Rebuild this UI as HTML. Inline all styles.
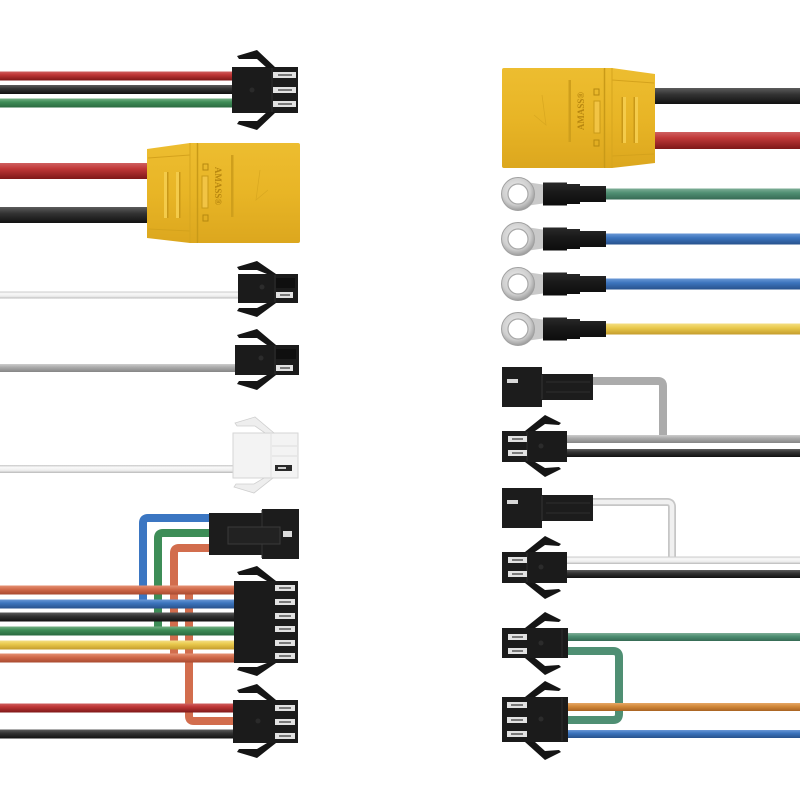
<!DOCTYPE html>
<html><head><meta charset="utf-8">
<style>html,body{margin:0;padding:0;background:#fff}svg{display:block}</style>
</head>
<body>
<svg width="800" height="800" viewBox="0 0 800 800" xmlns="http://www.w3.org/2000/svg">
<defs>
  <linearGradient id="gR" x1="0" y1="0" x2="0" y2="1"><stop offset="0" stop-color="#cf6060"/><stop offset="0.35" stop-color="#c03838"/><stop offset="1" stop-color="#7e1818"/></linearGradient>
  <linearGradient id="gK" x1="0" y1="0" x2="0" y2="1"><stop offset="0" stop-color="#5c5c5c"/><stop offset="0.4" stop-color="#333"/><stop offset="1" stop-color="#111"/></linearGradient>
  <linearGradient id="gG" x1="0" y1="0" x2="0" y2="1"><stop offset="0" stop-color="#74b084"/><stop offset="0.4" stop-color="#3e8c57"/><stop offset="1" stop-color="#2a6a40"/></linearGradient>
  <linearGradient id="gW" x1="0" y1="0" x2="0" y2="1"><stop offset="0" stop-color="#c8c8c8"/><stop offset="0.3" stop-color="#fafafa"/><stop offset="0.7" stop-color="#ececec"/><stop offset="1" stop-color="#b8b8b8"/></linearGradient>
  <linearGradient id="gGr" x1="0" y1="0" x2="0" y2="1"><stop offset="0" stop-color="#cdcdcd"/><stop offset="0.4" stop-color="#ababab"/><stop offset="1" stop-color="#858585"/></linearGradient>
  <linearGradient id="gB" x1="0" y1="0" x2="0" y2="1"><stop offset="0" stop-color="#6a98d6"/><stop offset="0.4" stop-color="#3c74bd"/><stop offset="1" stop-color="#28528c"/></linearGradient>
  <linearGradient id="gYe" x1="0" y1="0" x2="0" y2="1"><stop offset="0" stop-color="#f4df84"/><stop offset="0.4" stop-color="#e9c94c"/><stop offset="1" stop-color="#c49c2c"/></linearGradient>
  <linearGradient id="gO" x1="0" y1="0" x2="0" y2="1"><stop offset="0" stop-color="#e59274"/><stop offset="0.4" stop-color="#d26b4b"/><stop offset="1" stop-color="#a84a30"/></linearGradient>
  <linearGradient id="gT" x1="0" y1="0" x2="0" y2="1"><stop offset="0" stop-color="#7fae97"/><stop offset="0.4" stop-color="#4f8f73"/><stop offset="1" stop-color="#366a54"/></linearGradient>
  <linearGradient id="gO2" x1="0" y1="0" x2="0" y2="1"><stop offset="0" stop-color="#e6a868"/><stop offset="0.4" stop-color="#d38a3c"/><stop offset="1" stop-color="#a96322"/></linearGradient>
  <radialGradient id="gRing" cx="0.45" cy="0.4" r="0.6"><stop offset="0" stop-color="#eeeeee"/><stop offset="0.7" stop-color="#cfcfcf"/><stop offset="1" stop-color="#9c9c9c"/></radialGradient>
  <linearGradient id="gShr" x1="0" y1="0" x2="0" y2="1"><stop offset="0" stop-color="#2a2a2a"/><stop offset="0.4" stop-color="#1a1a1a"/><stop offset="1" stop-color="#0c0c0c"/></linearGradient>
  <linearGradient id="gXT" x1="0" y1="0" x2="0" y2="1"><stop offset="0" stop-color="#edbd30"/><stop offset="0.5" stop-color="#e8b526"/><stop offset="1" stop-color="#dca71e"/></linearGradient>
</defs>

<!-- ============ LEFT SIDE ============ -->
<!-- Row 1: 3-pin male -->
<rect x="0" y="71.5" width="236" height="9" fill="url(#gR)"/>
<rect x="0" y="85" width="236" height="9" fill="url(#gK)"/>
<rect x="0" y="98.5" width="236" height="9" fill="url(#gG)"/>
<rect x="232" y="67" width="66" height="46" fill="#1b1b1b"/>
<line x1="272" y1="68" x2="272" y2="112" stroke="#2e2e2e" stroke-width="1"/>
<circle cx="252" cy="90" r="2.5" fill="#2a2a2a"/>
<polygon points="237,56 257,50 276,68 267,68 257,59 239,59" fill="#151515"/>
<polygon points="237,124 257,130 276,112 267,112 257,121 239,121" fill="#151515"/>
<g fill="#e2e2e2"><rect x="273" y="72" width="23" height="6"/><rect x="273" y="87" width="23" height="6"/><rect x="273" y="101" width="23" height="6"/></g>
<g fill="#7a7a7a"><rect x="278" y="74" width="14" height="2"/><rect x="278" y="89" width="14" height="2"/><rect x="278" y="103" width="14" height="2"/></g>

<!-- Row 2: XT90 left -->
<rect x="0" y="163" width="152" height="16" fill="url(#gR)"/>
<rect x="0" y="207" width="152" height="16" fill="url(#gK)"/>
<g id="xt">
  <path d="M147 149 L190 143 L197 143 L197 243 L190 243 L147 238 Z" fill="url(#gXT)"/>
  <line x1="148" y1="158" x2="190" y2="155" stroke="#d4a21c" stroke-width="1"/>
  <line x1="148" y1="229" x2="190" y2="231" stroke="#d4a21c" stroke-width="1"/>
  <rect x="164" y="172" width="3" height="46" fill="#f4cb4a"/>
  <rect x="167" y="172" width="1.5" height="46" fill="#c99818"/>
  <rect x="176" y="172" width="3" height="46" fill="#f4cb4a"/>
  <rect x="179" y="172" width="1.5" height="46" fill="#c99818"/>
  <line x1="190" y1="143" x2="190" y2="243" stroke="#d6a51e" stroke-width="1"/>
  <rect x="197" y="143" width="103" height="100" rx="2" fill="url(#gXT)"/>
  <line x1="197.5" y1="143" x2="197.5" y2="243" stroke="#c99a18" stroke-width="1.5"/>
  <rect x="203" y="164" width="5" height="6" fill="none" stroke="#b5880f" stroke-width="1"/>
  <rect x="203" y="215" width="5" height="6" fill="none" stroke="#b5880f" stroke-width="1"/>
  <rect x="202" y="176" width="6" height="32" fill="#f2c444" stroke="#c99a18" stroke-width="1"/>
  <rect x="231" y="155" width="2.5" height="62" fill="#cf9f1c"/>
  <path d="M260 170 L256 200 L268 190" fill="none" stroke="#d9a820" stroke-width="0.8"/>
</g>
<text transform="translate(215,186) rotate(90)" font-size="9" text-anchor="middle" fill="#b8870f" font-family="Liberation Serif, serif" font-weight="bold">AMASS®</text>

<!-- Row 3: 2-pin male, white wire -->
<rect x="0" y="291.5" width="240" height="7" fill="url(#gW)"/>
<rect x="238" y="274" width="60" height="29" fill="#1b1b1b"/>
<rect x="276" y="278" width="19" height="10" fill="#0f0f0f"/>
<line x1="275" y1="275" x2="275" y2="302" stroke="#2e2e2e"/>
<circle cx="262" cy="287" r="2.5" fill="#2c2c2c"/>
<polygon points="237,267 257,261 276,274 267,274 257,270 239,270" fill="#151515"/>
<polygon points="237,311 257,317 276,303 267,303 257,308 239,308" fill="#151515"/>
<rect x="276" y="292" width="17" height="6" fill="#e2e2e2"/>
<rect x="280" y="294" width="10" height="2" fill="#7a7a7a"/>

<!-- Row 4: 2-pin male, gray wire -->
<rect x="0" y="364" width="237" height="8" fill="url(#gGr)"/>
<rect x="235" y="345" width="64" height="30" fill="#1b1b1b"/>
<rect x="276" y="349" width="20" height="10" fill="#0f0f0f"/>
<line x1="275" y1="346" x2="275" y2="374" stroke="#2e2e2e"/>
<circle cx="261" cy="358" r="2.5" fill="#2c2c2c"/>
<polygon points="237,335 257,329 276,345 267,345 257,338 239,338" fill="#151515"/>
<polygon points="237,384 257,390 276,375 267,375 257,381 239,381" fill="#151515"/>
<rect x="276" y="365" width="17" height="6" fill="#e2e2e2"/>
<rect x="280" y="367" width="10" height="2" fill="#7a7a7a"/>

<!-- Row 5: white 2-pin -->
<rect x="0" y="465" width="235" height="8" fill="url(#gW)"/>
<rect x="233" y="433" width="65" height="45" fill="#f3f3f3" stroke="#d6d6d6" stroke-width="1"/>
<line x1="271" y1="434" x2="271" y2="477" stroke="#e0e0e0"/>
<line x1="272" y1="446" x2="297" y2="446" stroke="#dcdcdc"/>
<line x1="272" y1="456" x2="297" y2="456" stroke="#dcdcdc"/>
<polygon points="235,423 255,417 274,433 265,433 255,426 237,426" fill="#eeeeee" stroke="#cfcfcf" stroke-width="0.8"/>
<polygon points="234,487 254,493 273,478 264,478 254,484 236,484" fill="#eeeeee" stroke="#cfcfcf" stroke-width="0.8"/>
<rect x="275" y="465" width="17" height="6" fill="#2a2a2a"/>
<rect x="278" y="467" width="8" height="2" fill="#cfcfcf"/>

<!-- Row 6: harness -->
<g fill="none" stroke-width="8">
  <path d="M212 518 H148 Q143 518 143 523 V604" stroke="#3b76c2"/>
  <path d="M212 533 H163 Q158 533 158 538 V631" stroke="#3d8d57"/>
  <path d="M212 548 H179 Q174 548 174 553 V658" stroke="#d26d4d"/>
  <path d="M189 590 V716 Q189 721 194 721 H236" stroke="#d26d4d"/>
</g>
<rect x="0" y="585.5" width="236" height="9" fill="url(#gO)"/>
<rect x="0" y="599.5" width="236" height="9" fill="url(#gB)"/>
<rect x="0" y="612.5" width="236" height="9" fill="url(#gK)"/>
<rect x="0" y="626.5" width="236" height="9" fill="url(#gG)"/>
<rect x="0" y="640.5" width="236" height="9" fill="url(#gYe)"/>
<rect x="0" y="653.5" width="236" height="9" fill="url(#gO)"/>
<rect x="0" y="703.5" width="236" height="9" fill="url(#gR)"/>
<rect x="0" y="729.5" width="236" height="9" fill="url(#gK)"/>

<!-- female top -->
<path d="M209 513 H262 V509 H299 V559 H262 V555 H209 Z" fill="#1c1c1c"/>
<line x1="262" y1="510" x2="262" y2="558" stroke="#333"/>
<rect x="228" y="527" width="52" height="17" fill="#222" stroke="#3a3a3a" stroke-width="1"/>
<rect x="283" y="531" width="9" height="6" fill="#dcdcdc"/>

<!-- 6-pin -->
<rect x="234" y="581" width="64" height="82" fill="#1b1b1b"/>
<polygon points="237,572 257,566 276,581 267,581 257,575 239,575" fill="#151515"/>
<polygon points="237,670 257,676 276,663 267,663 257,667 239,667" fill="#151515"/>
<g fill="#e2e2e2"><rect x="275" y="585" width="20" height="6"/><rect x="275" y="599" width="20" height="6"/><rect x="275" y="613" width="20" height="6"/><rect x="275" y="626" width="20" height="6"/><rect x="275" y="640" width="20" height="6"/><rect x="275" y="653" width="20" height="6"/></g>
<g fill="#7a7a7a"><rect x="279" y="587" width="12" height="2"/><rect x="279" y="601" width="12" height="2"/><rect x="279" y="615" width="12" height="2"/><rect x="279" y="628" width="12" height="2"/><rect x="279" y="642" width="12" height="2"/><rect x="279" y="655" width="12" height="2"/></g>

<!-- bottom 3-pin -->
<rect x="233" y="700" width="65" height="43" fill="#1b1b1b"/>
<circle cx="258" cy="721" r="2.5" fill="#2a2a2a"/>
<polygon points="237,690 257,684 276,700 267,700 257,693 239,693" fill="#151515"/>
<polygon points="237,752 257,758 276,743 267,743 257,749 239,749" fill="#151515"/>
<g fill="#e2e2e2"><rect x="275" y="705" width="20" height="6"/><rect x="275" y="719" width="20" height="6"/><rect x="275" y="733" width="20" height="6"/></g>
<g fill="#7a7a7a"><rect x="279" y="707" width="12" height="2"/><rect x="279" y="721" width="12" height="2"/><rect x="279" y="735" width="12" height="2"/></g>

<!-- ============ RIGHT SIDE ============ -->
<!-- XT90 right -->
<rect x="648" y="88" width="152" height="16" fill="url(#gK)"/>
<rect x="648" y="132" width="152" height="17" fill="url(#gR)"/>
<g transform="matrix(-1,0,0,1,802,-75)">
  <path d="M147 149 L190 143 L197 143 L197 243 L190 243 L147 238 Z" fill="url(#gXT)"/>
  <line x1="148" y1="158" x2="190" y2="155" stroke="#d4a21c" stroke-width="1"/>
  <line x1="148" y1="229" x2="190" y2="231" stroke="#d4a21c" stroke-width="1"/>
  <rect x="164" y="172" width="3" height="46" fill="#f4cb4a"/>
  <rect x="167" y="172" width="1.5" height="46" fill="#c99818"/>
  <rect x="176" y="172" width="3" height="46" fill="#f4cb4a"/>
  <rect x="179" y="172" width="1.5" height="46" fill="#c99818"/>
  <line x1="190" y1="143" x2="190" y2="243" stroke="#d6a51e" stroke-width="1"/>
  <rect x="197" y="143" width="103" height="100" rx="2" fill="url(#gXT)"/>
  <line x1="197.5" y1="143" x2="197.5" y2="243" stroke="#c99a18" stroke-width="1.5"/>
  <rect x="203" y="164" width="5" height="6" fill="none" stroke="#b5880f" stroke-width="1"/>
  <rect x="203" y="215" width="5" height="6" fill="none" stroke="#b5880f" stroke-width="1"/>
  <rect x="202" y="176" width="6" height="32" fill="#f2c444" stroke="#c99a18" stroke-width="1"/>
  <rect x="231" y="155" width="2.5" height="62" fill="#cf9f1c"/>
  <path d="M260 170 L256 200 L268 190" fill="none" stroke="#d9a820" stroke-width="0.8"/>
</g>
<text transform="translate(584,111) rotate(-90)" font-size="9" text-anchor="middle" fill="#b8870f" font-family="Liberation Serif, serif" font-weight="bold">AMASS®</text>

<!-- Ring terminals -->
<rect x="600" y="188.5" width="200" height="11" fill="url(#gT)"/>
<rect x="600" y="233.5" width="200" height="11" fill="url(#gB)"/>
<rect x="600" y="278.5" width="200" height="11" fill="url(#gB)"/>
<rect x="600" y="323.5" width="200" height="11" fill="url(#gYe)"/>
<g id="ring1">
  <polygon points="526,182 546,185 546,203 526,206" fill="#c9c9c9"/>
  <circle cx="518" cy="194" r="16.5" fill="url(#gRing)" stroke="#a0a0a0" stroke-width="1"/>
  <circle cx="518" cy="194" r="10" fill="#fff" stroke="#a8a8a8" stroke-width="1.2"/>
  <path d="M543 182.5 H567 V184 H580 V186 H606 V202 H580 V204 H567 V205.5 H543 Z" fill="url(#gShr)"/>
</g>
<g>
  <polygon points="526,227 546,230 546,248 526,251" fill="#c9c9c9"/>
  <circle cx="518" cy="239" r="16.5" fill="url(#gRing)" stroke="#a0a0a0" stroke-width="1"/>
  <circle cx="518" cy="239" r="10" fill="#fff" stroke="#a8a8a8" stroke-width="1.2"/>
  <path d="M543 227.5 H567 V229 H580 V231 H606 V247 H580 V249 H567 V250.5 H543 Z" fill="url(#gShr)"/>
</g>
<g>
  <polygon points="526,272 546,275 546,293 526,296" fill="#c9c9c9"/>
  <circle cx="518" cy="284" r="16.5" fill="url(#gRing)" stroke="#a0a0a0" stroke-width="1"/>
  <circle cx="518" cy="284" r="10" fill="#fff" stroke="#a8a8a8" stroke-width="1.2"/>
  <path d="M543 272.5 H567 V274 H580 V276 H606 V292 H580 V294 H567 V295.5 H543 Z" fill="url(#gShr)"/>
</g>
<g>
  <polygon points="526,317 546,320 546,338 526,341" fill="#c9c9c9"/>
  <circle cx="518" cy="329" r="16.5" fill="url(#gRing)" stroke="#a0a0a0" stroke-width="1"/>
  <circle cx="518" cy="329" r="10" fill="#fff" stroke="#a8a8a8" stroke-width="1.2"/>
  <path d="M543 317.5 H567 V319 H580 V321 H606 V337 H580 V339 H567 V340.5 H543 Z" fill="url(#gShr)"/>
</g>

<!-- Pair 1: gray -->
<path d="M590 381 H658 Q663 381 663 386 V439" fill="none" stroke="#ababab" stroke-width="8"/>
<path d="M502 367 H542 V374 H593 V400 H542 V407 H502 Z" fill="#1c1c1c"/>
<line x1="542" y1="375" x2="542" y2="399" stroke="#333"/>
<line x1="546" y1="382" x2="590" y2="382" stroke="#2e2e2e"/>
<line x1="546" y1="392" x2="590" y2="392" stroke="#2e2e2e"/>
<rect x="507" y="379" width="11" height="4" fill="#d8d8d8"/>
<rect x="564" y="435" width="236" height="8" fill="url(#gGr)"/>
<rect x="564" y="449" width="236" height="8" fill="url(#gK)"/>
<rect x="502" y="431" width="65" height="31" fill="#1b1b1b"/>
<line x1="527" y1="432" x2="527" y2="461" stroke="#2e2e2e"/>
<circle cx="541" cy="446" r="2.5" fill="#2c2c2c"/>
<polygon points="561,423 545,415 525,431 535,431 545,424 559,425" fill="#151515"/>
<polygon points="561,469 545,477 525,462 535,462 545,468 559,467" fill="#151515"/>
<rect x="508" y="436" width="19" height="6" fill="#e2e2e2"/><rect x="512" y="438" width="11" height="2" fill="#7a7a7a"/>
<rect x="508" y="450" width="19" height="6" fill="#e2e2e2"/><rect x="512" y="452" width="11" height="2" fill="#7a7a7a"/>

<!-- Pair 2: white -->
<path d="M590 502 H667 Q672 502 672 507 V560" fill="none" stroke="#c6c6c6" stroke-width="8"/>
<path d="M590 502 H667 Q672 502 672 507 V560" fill="none" stroke="#f0f0f0" stroke-width="4.5"/>
<path d="M502 488 H542 V495 H593 V521 H542 V528 H502 Z" fill="#1c1c1c"/>
<line x1="542" y1="496" x2="542" y2="520" stroke="#333"/>
<line x1="546" y1="503" x2="590" y2="503" stroke="#2e2e2e"/>
<line x1="546" y1="513" x2="590" y2="513" stroke="#2e2e2e"/>
<rect x="507" y="500" width="11" height="4" fill="#d8d8d8"/>
<rect x="564" y="556.5" width="236" height="7.5" fill="url(#gW)"/>
<rect x="564" y="570" width="236" height="8" fill="url(#gK)"/>
<rect x="502" y="552" width="65" height="31" fill="#1b1b1b"/>
<line x1="527" y1="553" x2="527" y2="582" stroke="#2e2e2e"/>
<circle cx="541" cy="567" r="2.5" fill="#2c2c2c"/>
<polygon points="561,544 545,536 525,552 535,552 545,545 559,546" fill="#151515"/>
<polygon points="561,591 545,599 525,583 535,583 545,590 559,589" fill="#151515"/>
<rect x="508" y="557" width="19" height="6" fill="#e2e2e2"/><rect x="512" y="559" width="11" height="2" fill="#7a7a7a"/>
<rect x="508" y="571" width="19" height="6" fill="#e2e2e2"/><rect x="512" y="573" width="11" height="2" fill="#7a7a7a"/>

<!-- Pair 3: green/orange/blue -->
<path d="M566 651 H613 Q619 651 619 657 V714 Q619 720 613 720 H566" fill="none" stroke="#4f8f73" stroke-width="8"/>
<rect x="566" y="633" width="234" height="8" fill="url(#gT)"/>
<rect x="566" y="703" width="234" height="8" fill="url(#gO2)"/>
<rect x="566" y="730" width="234" height="8" fill="url(#gB)"/>
<rect x="502" y="628" width="66" height="30" fill="#1b1b1b"/>
<line x1="562" y1="629" x2="562" y2="657" stroke="#2e2e2e"/>
<circle cx="541" cy="643" r="2.5" fill="#2c2c2c"/>
<polygon points="561,620 545,612 525,628 535,628 545,621 559,622" fill="#151515"/>
<polygon points="561,667 545,675 525,658 535,658 545,666 559,665" fill="#151515"/>
<rect x="508" y="634" width="19" height="6" fill="#e2e2e2"/><rect x="512" y="636" width="11" height="2" fill="#7a7a7a"/>
<rect x="508" y="648" width="19" height="6" fill="#e2e2e2"/><rect x="512" y="650" width="11" height="2" fill="#7a7a7a"/>

<rect x="502" y="697" width="66" height="45" fill="#1b1b1b"/>
<line x1="562" y1="698" x2="562" y2="741" stroke="#2e2e2e"/>
<circle cx="541" cy="719" r="2.5" fill="#2c2c2c"/>
<polygon points="561,689 545,681 525,697 535,697 545,690 559,691" fill="#151515"/>
<polygon points="561,752 545,760 525,742 535,742 545,751 559,750" fill="#151515"/>
<rect x="507" y="702" width="20" height="6" fill="#e2e2e2"/><rect x="511" y="704" width="12" height="2" fill="#7a7a7a"/>
<rect x="507" y="717" width="20" height="6" fill="#e2e2e2"/><rect x="511" y="719" width="12" height="2" fill="#7a7a7a"/>
<rect x="507" y="731" width="20" height="6" fill="#e2e2e2"/><rect x="511" y="733" width="12" height="2" fill="#7a7a7a"/>
</svg>
</body></html>
